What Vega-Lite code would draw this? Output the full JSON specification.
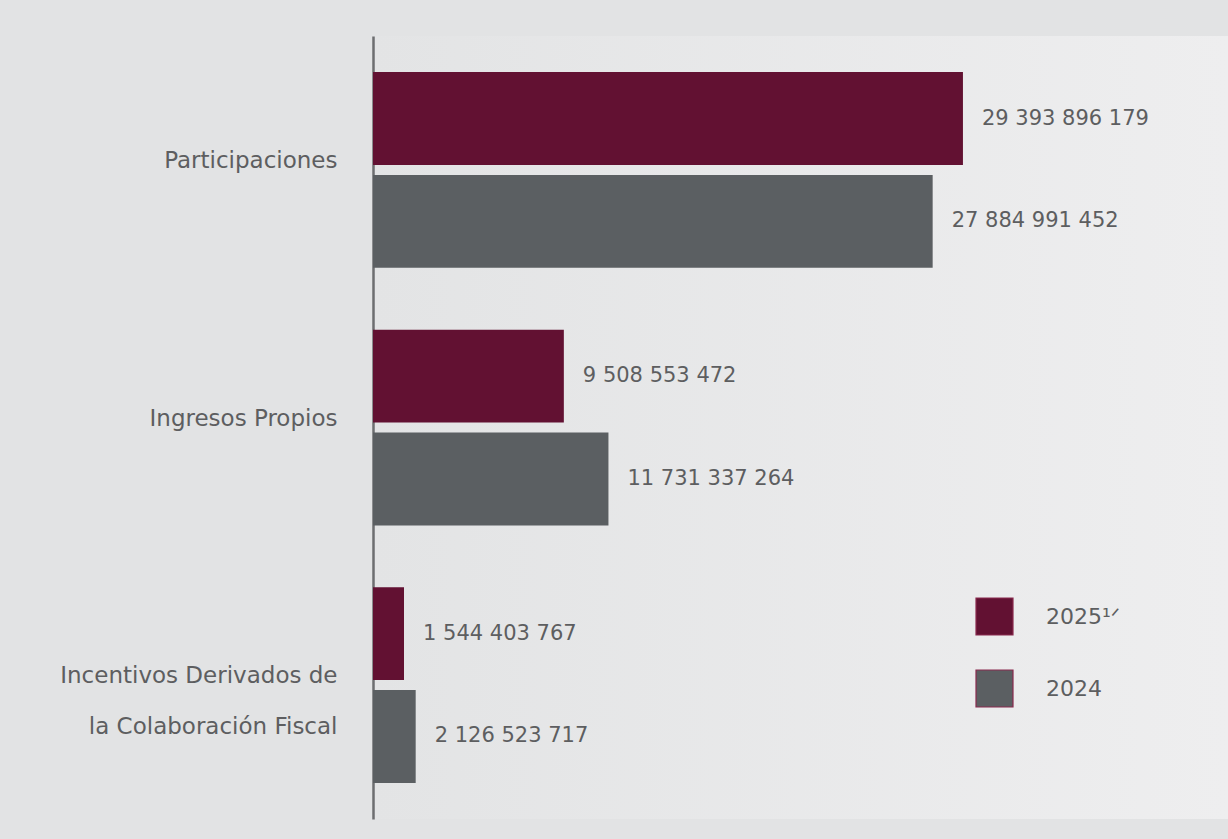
{
  "$schema": "https://vega.github.io/schema/vega-lite/v6.json",
  "autosize": "none",
  "padding": {"left": 373, "top": 36, "right": 0, "bottom": 20},
  "width": 855,
  "height": 783,
  "background": "#e2e3e4",
  "config": {
    "font": "DejaVu Sans",
    "view": {
      "stroke": null,
      "fill": {"gradient": "linear", "x1": 0, "y1": 0, "x2": 1, "y2": 0,
        "stops": [{"offset": 0, "color": "#e3e4e5"}, {"offset": 1, "color": "#eeeeef"}]}
    },
    "locale": {"number": {"decimal": ".", "thousands": " ", "grouping": [3], "currency": ["$", ""]}}
  },
  "data": {
    "values": [
      {"categoria": "Participaciones", "anio": "2025", "valor": 29393896179},
      {"categoria": "Participaciones", "anio": "2024", "valor": 27884991452},
      {"categoria": "Ingresos Propios", "anio": "2025", "valor": 9508553472},
      {"categoria": "Ingresos Propios", "anio": "2024", "valor": 11731337264},
      {"categoria": "Incentivos Derivados de la Colaboración Fiscal", "anio": "2025", "valor": 1544403767},
      {"categoria": "Incentivos Derivados de la Colaboración Fiscal", "anio": "2024", "valor": 2126523717}
    ]
  },
  "encoding": {
    "y": {
      "field": "categoria", "type": "nominal", "sort": null,
      "scale": {"paddingInner": 0.24, "paddingOuter": 0.14},
      "axis": {
        "title": null, "ticks": false, "labelPadding": 36, "labelLimit": 0,
        "labelFontSize": 23, "labelColor": "#5d5e60", "labelFont": "DejaVu Sans",
        "labelLineHeight": 51, "labelOffset": -9,
        "domainColor": "#6d6e70", "domainWidth": 2.5,
        "labelExpr": "datum.value == 'Incentivos Derivados de la Colaboración Fiscal' ? ['Incentivos Derivados de', 'la Colaboración Fiscal'] : datum.value"
      }
    },
    "yOffset": {
      "field": "anio", "type": "nominal", "sort": ["2025", "2024"],
      "scale": {"paddingInner": 0.097, "paddingOuter": 0}
    },
    "x": {
      "field": "valor", "type": "quantitative",
      "scale": {"domain": [0, 42600000000]},
      "axis": null
    }
  },
  "layer": [
    {
      "mark": {"type": "bar"},
      "encoding": {
        "color": {
          "field": "anio", "type": "nominal", "sort": ["2025", "2024"],
          "scale": {"domain": ["2025", "2024"], "range": ["#621132", "#5b5f62"]},
          "legend": {
            "title": null, "orient": "none", "legendX": 602, "legendY": 561,
            "padding": 0, "symbolType": "square", "symbolSize": 1369,
            "symbolStrokeColor": "#8a2a4e", "symbolStrokeWidth": 1.2, "symbolOpacity": 1,
            "rowPadding": 29, "labelOffset": 32, "labelFontSize": 22,
            "labelColor": "#5d5e60", "labelFont": "DejaVu Sans",
            "labelExpr": "datum.value == '2025' ? '2025¹ᐟ' : datum.value"
          }
        }
      }
    },
    {
      "mark": {"type": "text", "align": "left", "baseline": "middle", "dx": 19, "fontSize": 21, "color": "#5d5e60", "font": "DejaVu Sans"},
      "encoding": {
        "text": {"field": "valor", "type": "quantitative", "format": ",d"}
      }
    }
  ]
}
